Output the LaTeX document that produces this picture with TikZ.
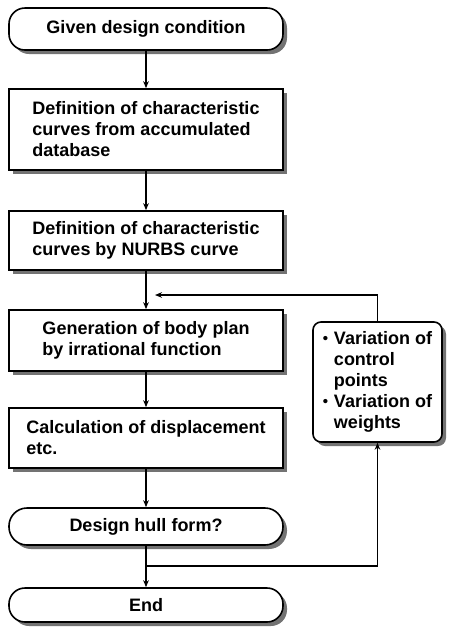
\documentclass[tikz,border=0pt]{standalone}
\usepackage{fontspec}
\setmainfont{Liberation Sans}
\usepackage{tikz}
\usetikzlibrary{arrows.meta, shadows, patterns, positioning}
\newcommand{\vbul}{\makebox[5.5pt][l]{\raisebox{0.4pt}{\fontsize{7.5}{7.5}\selectfont\textbullet}}}

\begin{document}
\begin{tikzpicture}[x=0.5pt, y=-0.5pt, >={Stealth[length=3.5pt, width=2.8pt]},
  font=\fontsize{9}{10.5}\selectfont\bfseries,
  dotshadow/.style={general shadow={shadow xshift=2pt, shadow yshift=-2pt,
      fill=black!55}},
  procbox/.style={draw, line width=0.8pt, fill=white, minimum width=137pt,
      align=left, dotshadow},
  termbox/.style={procbox, rounded corners=8pt, align=center},
  flow/.style={->, line width=0.6pt}]
  \useasboundingbox (0,0) rectangle (449,628);

  % main column
  \node[termbox, minimum height=21pt] (given) at (146,29) {Given design condition};
  \node[procbox, minimum height=40.5pt] (database) at (146,129.5)
    {Definition of characteristic\\curves from accumulated\\database};
  \node[procbox, minimum height=29.5pt] (nurbs) at (146,240.5)
    {Definition of characteristic\\curves by NURBS curve};
  \node[procbox, minimum height=30.5pt] (bodyplan) at (146,340.5)
    {Generation of body plan\\by irrational function};
  \node[procbox, minimum height=30pt] (displace) at (146,438)
    {Calculation of displacement\\etc.};
  \node[termbox, rounded corners=9pt, minimum height=18.5pt] (decide) at (146,526.5)
    {Design hull form?};
  \node[termbox, minimum height=17pt] (finish) at (146,605) {End};

  % side box
  \node[procbox, rounded corners=4pt, minimum width=64.5pt, minimum height=60pt]
    (vary) at (377.5,382)
    {\vbul Variation of\\\hspace*{5.5pt}control\\\hspace*{5.5pt}points\\
     \vbul Variation of\\\hspace*{5.5pt}weights};

  \draw[flow] (given) -- (database);
  \draw[flow] (database) -- (nurbs);
  \draw[flow] (nurbs) -- (bodyplan);
  \draw[flow] (bodyplan) -- (displace);
  \draw[flow] (displace) -- (decide);
  \draw[flow] (decide) -- (finish);

  % feedback loop
  \coordinate (loopin) at (155,295);
  \coordinate (fork) at (146,566);
  \draw[flow] (vary.north) |- (loopin);
  \draw[flow] (fork) -| (vary.south);
\end{tikzpicture}
\end{document}
